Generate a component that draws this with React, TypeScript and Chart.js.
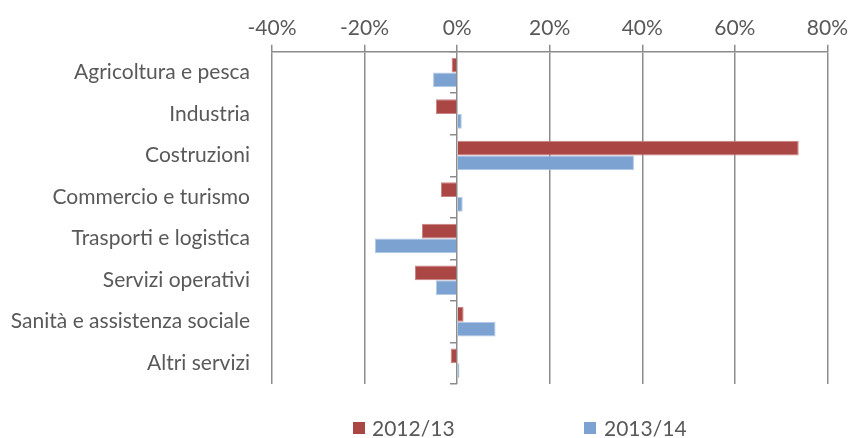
import React, { useEffect, useRef } from "react";
import { Chart, registerables } from "chart.js";

Chart.register(...registerables);

const categories = [
  "Agricoltura e pesca",
  "Industria",
  "Costruzioni",
  "Commercio e turismo",
  "Trasporti e logistica",
  "Servizi operativi",
  "Sanità e assistenza sociale",
  "Altri servizi",
];
const seriesNames = ["2012/13", "2013/14"];
const values1213 = [-1.2, -4.6, 73.8, -3.5, -7.6, -9.1, 1.4, -1.4];
const values1314 = [-5.2, 1.0, 38.2, 1.2, -17.8, -4.6, 8.3, 0.5];
const xTicks = { min: -40, max: 80, step: 20 };

const RED = "#aa4644";
const BLUE = "#7ca2d1";
const GRID = "#8c8c8c";
const TEXT = "#595959";
const FONT = "Lato, 'Open Sans', sans-serif";
const FS = 21;

export default function App() {
  const ref = useRef<HTMLCanvasElement | null>(null);

  useEffect(() => {
    if (!ref.current) return;
    const chart = new Chart(ref.current, {
      type: "bar",
      data: {
        labels: categories,
        datasets: [
          {
            label: seriesNames[0],
            data: values1213,
            backgroundColor: RED,
            borderColor: "#c98382",
            borderWidth: 1,
            yAxisID: "y",
          },
          {
            label: seriesNames[1],
            data: values1314,
            backgroundColor: BLUE,
            borderColor: "#b3c9e6",
            borderWidth: 1,
            yAxisID: "y",
          },
        ],
      },
      options: {
        indexAxis: "y",
        responsive: true,
        maintainAspectRatio: false,
        animation: false,
        layout: { padding: { left: 0, right: 20, top: 11.5, bottom: 54 } },
        datasets: { bar: { categoryPercentage: 0.71, barPercentage: 1.0 } },
        plugins: {
          legend: { display: false },
          tooltip: { enabled: false },
        },
        scales: {
          x: {
            type: "linear",
            position: "top",
            min: xTicks.min,
            max: xTicks.max,
            ticks: {
              stepSize: xTicks.step,
              callback: (v: any) => v + "%",
              color: TEXT,
              font: { family: FONT, size: FS },
              padding: 4,
            },
            grid: {
              color: GRID,
              lineWidth: 1.5,
              tickLength: 7,
              drawTicks: true,
            },
            border: { display: true, color: GRID, width: 1.5 },
          },
          y: {
            type: "category",
            position: "left",
            grid: { display: false, drawTicks: false },
            border: { display: false },
            ticks: {
              color: TEXT,
              font: { family: FONT, size: FS },
              padding: 22,
            },
            afterFit: (scale: any) => {
              scale.width = 272;
            },
          },
          y2: {
            type: "category",
            axis: "y",
            position: { x: 0 },
            grid: {
              display: true,
              drawOnChartArea: false,
              drawTicks: true,
              tickLength: 7,
              offset: true,
              color: GRID,
              lineWidth: 1.5,
            },
            border: { display: false },
            ticks: { display: false },
          },
        },
      },
    });
    return () => chart.destroy();
  }, []);

  const legendText: React.CSSProperties = {
    position: "absolute",
    top: 414,
    height: 28,
    lineHeight: "28px",
    fontFamily: FONT,
    fontSize: FS,
    color: TEXT,
    whiteSpace: "nowrap",
  };
  const box = (c: string, left: number): React.CSSProperties => ({
    position: "absolute",
    left,
    top: 422,
    width: 12,
    height: 12,
    background: c,
  });

  return (
    <div
      style={{
        position: "absolute",
        left: 0,
        top: 0,
        width: 852,
        height: 438,
        background: "#ffffff",
      }}
    >
      <canvas ref={ref} />
      <div style={box(RED, 353)} />
      <div style={{ ...legendText, left: 372 }}>{seriesNames[0]}</div>
      <div style={box(BLUE, 584)} />
      <div style={{ ...legendText, left: 604 }}>{seriesNames[1]}</div>
    </div>
  );
}
